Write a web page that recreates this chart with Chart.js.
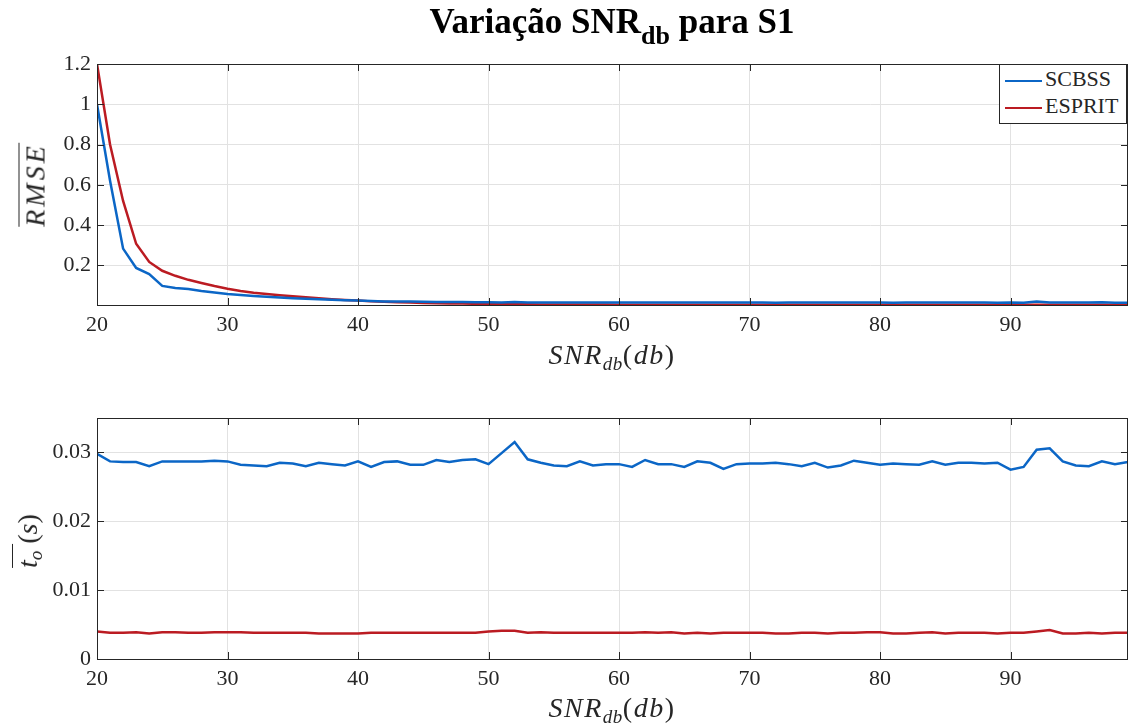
<!DOCTYPE html>
<html>
<head>
<meta charset="utf-8">
<script src="https://cdn.jsdelivr.net/npm/chart.js@4.4.1/dist/chart.umd.min.js"></script>
<style>
    body { margin: 0; background: #fff; }
    #wrap { position: relative; width: 1129px; height: 726px; font-family: "Liberation Serif", serif; color: #262626; }
    canvas { position: absolute; left: 0; }
    .lbl { position: absolute; white-space: nowrap; }
    .title { left: 612px; top: 2px; transform: translateX(-50%); font-size: 35px; font-weight: bold; color: #000; }
    .title sub { font-size: 26px; vertical-align: -11px; line-height: 0; }
    .xlab { left: 612px; transform: translateX(-50%); font-size: 28px; letter-spacing: 1.5px; }
    .xlab sub { font-size: 19px; vertical-align: -6px; line-height: 0; letter-spacing: 0.5px; }
    .ylab { font-size: 28px; transform: translate(-50%, -50%) rotate(-90deg); }
    .ov { display: inline-block; border-top: 1.5px solid #262626; line-height: 1; padding-top: 1px; }
    .ov sub { font-size: 19px; vertical-align: -5px; line-height: 0; }
    .legend { position: absolute; left: 999px; top: 64px; width: 126px; height: 58px; border: 1px solid #262626; background: #fff; font-size: 22px; }
    .legend div { height: 27px; line-height: 27px; padding-left: 5px; }
    .legend span.ln { display: inline-block; width: 37px; height: 2.5px; vertical-align: middle; margin-right: 3px; }
</style>
</head>
<body>
<div id="wrap">
    <canvas id="rmseChart" style="top:0" width="1129" height="340"></canvas>
    <canvas id="timeChart" style="top:354px" width="1129" height="340"></canvas>

    <div class="lbl title">Variação SNR<sub>db</sub> para S1</div>
    <div class="lbl xlab" style="top:339px"><i>SNR</i><sub><i>db</i></sub>(<i>db</i>)</div>
    <div class="lbl xlab" style="top:692px"><i>SNR</i><sub><i>db</i></sub>(<i>db</i>)</div>
    <div class="lbl ylab" style="left:35px; top:185px"><span class="ov" style="letter-spacing: 3px; padding-top: 2px"><i>RMSE</i></span></div>
    <div class="lbl ylab" style="left:28px; top:541px"><span class="ov"><i>t</i><sub><i>o</i></sub>&nbsp;</span>(<i>s</i>)</div>

    <div class="legend">
        <div><span class="ln" style="background:#0b66c6"></span>SCBSS</div>
        <div><span class="ln" style="background:#bb1b22"></span>ESPRIT</div>
    </div>
</div>

<script>
const snrDb = [20, 21, 22, 23, 24, 25, 26, 27, 28, 29,
    30, 31, 32, 33, 34, 35, 36, 37, 38, 39,
    40, 41, 42, 43, 44, 45, 46, 47, 48, 49,
    50, 51, 52, 53, 54, 55, 56, 57, 58, 59,
    60, 61, 62, 63, 64, 65, 66, 67, 68, 69,
    70, 71, 72, 73, 74, 75, 76, 77, 78, 79,
    80, 81, 82, 83, 84, 85, 86, 87, 88, 89,
    90, 91, 92, 93, 94, 95, 96, 97, 98, 99];

const rmseScbss = [1.0, 0.62, 0.283, 0.187, 0.157, 0.098, 0.088, 0.082, 0.072, 0.065,
    0.058, 0.053, 0.048, 0.044, 0.040, 0.037, 0.034, 0.031, 0.029, 0.027,
    0.025, 0.023, 0.021, 0.020, 0.020, 0.019, 0.018, 0.018, 0.018, 0.017,
    0.017, 0.016, 0.018, 0.016, 0.015, 0.015, 0.015, 0.016, 0.015, 0.015,
    0.016, 0.015, 0.016, 0.015, 0.015, 0.015, 0.016, 0.015, 0.015, 0.015,
    0.015, 0.015, 0.014, 0.016, 0.015, 0.015, 0.015, 0.015, 0.015, 0.015,
    0.015, 0.014, 0.015, 0.015, 0.015, 0.015, 0.015, 0.015, 0.015, 0.014,
    0.016, 0.014, 0.020, 0.015, 0.016, 0.016, 0.016, 0.017, 0.014, 0.014];

const rmseEsprit = [1.2, 0.8, 0.52, 0.307, 0.217, 0.173, 0.148, 0.128, 0.112, 0.097,
    0.084, 0.073, 0.064, 0.058, 0.052, 0.046, 0.041, 0.036, 0.032, 0.028,
    0.025, 0.021, 0.019, 0.017, 0.015, 0.013, 0.012, 0.011, 0.010, 0.009,
    0.008, 0.0075, 0.007, 0.0065, 0.006, 0.0058, 0.0055, 0.0053, 0.005, 0.005,
    0.0048, 0.0047, 0.0047, 0.0046, 0.0046, 0.0045, 0.0045, 0.0045, 0.0044, 0.0044,
    0.0044, 0.0043, 0.0043, 0.0043, 0.0043, 0.0042, 0.0042, 0.0042, 0.0042, 0.0042,
    0.0041, 0.0041, 0.0041, 0.0041, 0.0041, 0.0040, 0.0040, 0.0040, 0.0040, 0.0040,
    0.0040, 0.0040, 0.0040, 0.0040, 0.0040, 0.0040, 0.0040, 0.0040, 0.0040, 0.0040];

const timeScbss = [0.0298, 0.0287, 0.0286, 0.0286, 0.0280, 0.0287, 0.0287, 0.0287, 0.0287, 0.0288,
    0.0287, 0.0282, 0.0281, 0.0280, 0.0285, 0.0284, 0.0280, 0.0285, 0.0283, 0.0281,
    0.0287, 0.0279, 0.0286, 0.0287, 0.0282, 0.0282, 0.0289, 0.0286, 0.0289, 0.0290,
    0.0283, 0.0299, 0.0315, 0.0290, 0.0285, 0.0281, 0.0280, 0.0287, 0.0281, 0.0283,
    0.0283, 0.0279, 0.0289, 0.0283, 0.0283, 0.0279, 0.0287, 0.0285, 0.0276, 0.0283,
    0.0284, 0.0284, 0.0285, 0.0283, 0.0280, 0.0285, 0.0278, 0.0281, 0.0288, 0.0285,
    0.0282, 0.0284, 0.0283, 0.0282, 0.0287, 0.0282, 0.0285, 0.0285, 0.0284, 0.0285,
    0.0275, 0.0279, 0.0304, 0.0306, 0.0287, 0.0281, 0.0280, 0.0287, 0.0283, 0.0286];

const timeEsprit = [0.0040, 0.0038, 0.0038, 0.0039, 0.0037, 0.0039, 0.0039, 0.0038, 0.0038, 0.0039,
    0.0039, 0.0039, 0.0038, 0.0038, 0.0038, 0.0038, 0.0038, 0.0037, 0.0037, 0.0037,
    0.0037, 0.0038, 0.0038, 0.0038, 0.0038, 0.0038, 0.0038, 0.0038, 0.0038, 0.0038,
    0.0040, 0.0041, 0.0041, 0.0038, 0.0039, 0.0038, 0.0038, 0.0038, 0.0038, 0.0038,
    0.0038, 0.0038, 0.0039, 0.0038, 0.0039, 0.0037, 0.0038, 0.0037, 0.0038, 0.0038,
    0.0038, 0.0038, 0.0037, 0.0037, 0.0038, 0.0038, 0.0037, 0.0038, 0.0038, 0.0039,
    0.0039, 0.0037, 0.0037, 0.0038, 0.0039, 0.0037, 0.0038, 0.0038, 0.0038, 0.0037,
    0.0038, 0.0038, 0.0040, 0.0042, 0.0037, 0.0037, 0.0038, 0.0037, 0.0038, 0.0038];

const xTicks = [20, 30, 40, 50, 60, 70, 80, 90];
const rmseTicks = [0.2, 0.4, 0.6, 0.8, 1, 1.2];
const timeTicks = [0, 0.01, 0.02, 0.03];

const blue = "#0b66c6";
const red = "#bb1b22";
const axisColor = "#262626";

// box round the plot area with inward tick marks, like the matlab axes
const framePlugin = {
    id: "frame",
    afterDraw(chart) {
        const { ctx, chartArea: a, scales } = chart;
        ctx.save();
        ctx.strokeStyle = axisColor;
        ctx.lineWidth = 1;
        ctx.beginPath();
        scales.x.ticks.forEach(t => {
            const px = Math.round(scales.x.getPixelForValue(t.value)) + 0.5;
            ctx.moveTo(px, a.bottom); ctx.lineTo(px, a.bottom - 7);
            ctx.moveTo(px, a.top); ctx.lineTo(px, a.top + 7);
        });
        scales.y.ticks.forEach(t => {
            const py = Math.round(scales.y.getPixelForValue(t.value)) + 0.5;
            ctx.moveTo(a.left, py); ctx.lineTo(a.left + 7, py);
            ctx.moveTo(a.right, py); ctx.lineTo(a.right - 7, py);
        });
        ctx.stroke();
        ctx.strokeRect(Math.round(a.left) + 0.5, Math.round(a.top) + 0.5, Math.round(a.right - a.left) - 1, Math.round(a.bottom - a.top));
        ctx.restore();
    }
};

function makeChart(canvasId, scbss, esprit, yMin, yMax, yTicks) {
    const ctx = document.getElementById(canvasId).getContext("2d");
    return new Chart(ctx, {
        type: "line",
        data: {
            datasets: [
                {
                    label: "SCBSS",
                    data: snrDb.map((x, i) => ({ x: x, y: scbss[i] })),
                    borderColor: blue,
                    borderWidth: 2.5,
                    pointRadius: 0,
                    tension: 0
                },
                {
                    label: "ESPRIT",
                    data: snrDb.map((x, i) => ({ x: x, y: esprit[i] })),
                    borderColor: red,
                    borderWidth: 2.5,
                    pointRadius: 0,
                    tension: 0
                }
            ]
        },
        options: {
            responsive: false,
            animation: false,
            layout: { padding: { top: 64, right: 1, left: 0, bottom: 0 } },
            plugins: {
                legend: { display: false },
                tooltip: { enabled: false }
            },
            scales: {
                x: {
                    type: "linear",
                    min: 20,
                    max: 99,
                    afterBuildTicks: (scale) => { scale.ticks = xTicks.map(v => ({ value: v })); },
                    afterFit: (scale) => { scale.height = 35; },
                    grid: { color: "#e2e2e2", drawTicks: false },
                    border: { display: false },
                    ticks: {
                        color: axisColor,
                        padding: 7,
                        maxRotation: 0,
                        font: { family: "Liberation Serif", size: 22 }
                    }
                },
                y: {
                    min: yMin,
                    max: yMax,
                    afterBuildTicks: (scale) => { scale.ticks = yTicks.map(v => ({ value: v })); },
                    afterFit: (scale) => { scale.width = 97; },
                    grid: { color: "#e2e2e2", drawTicks: false },
                    border: { display: false },
                    ticks: {
                        color: axisColor,
                        padding: 6,
                        font: { family: "Liberation Serif", size: 22 },
                        callback: (value) => String(+value.toFixed(4))
                    }
                }
            }
        },
        plugins: [framePlugin]
    });
}

makeChart("rmseChart", rmseScbss, rmseEsprit, 0.003, 1.2, rmseTicks);
makeChart("timeChart", timeScbss, timeEsprit, 0, 0.035, timeTicks);
</script>
</body>
</html>
